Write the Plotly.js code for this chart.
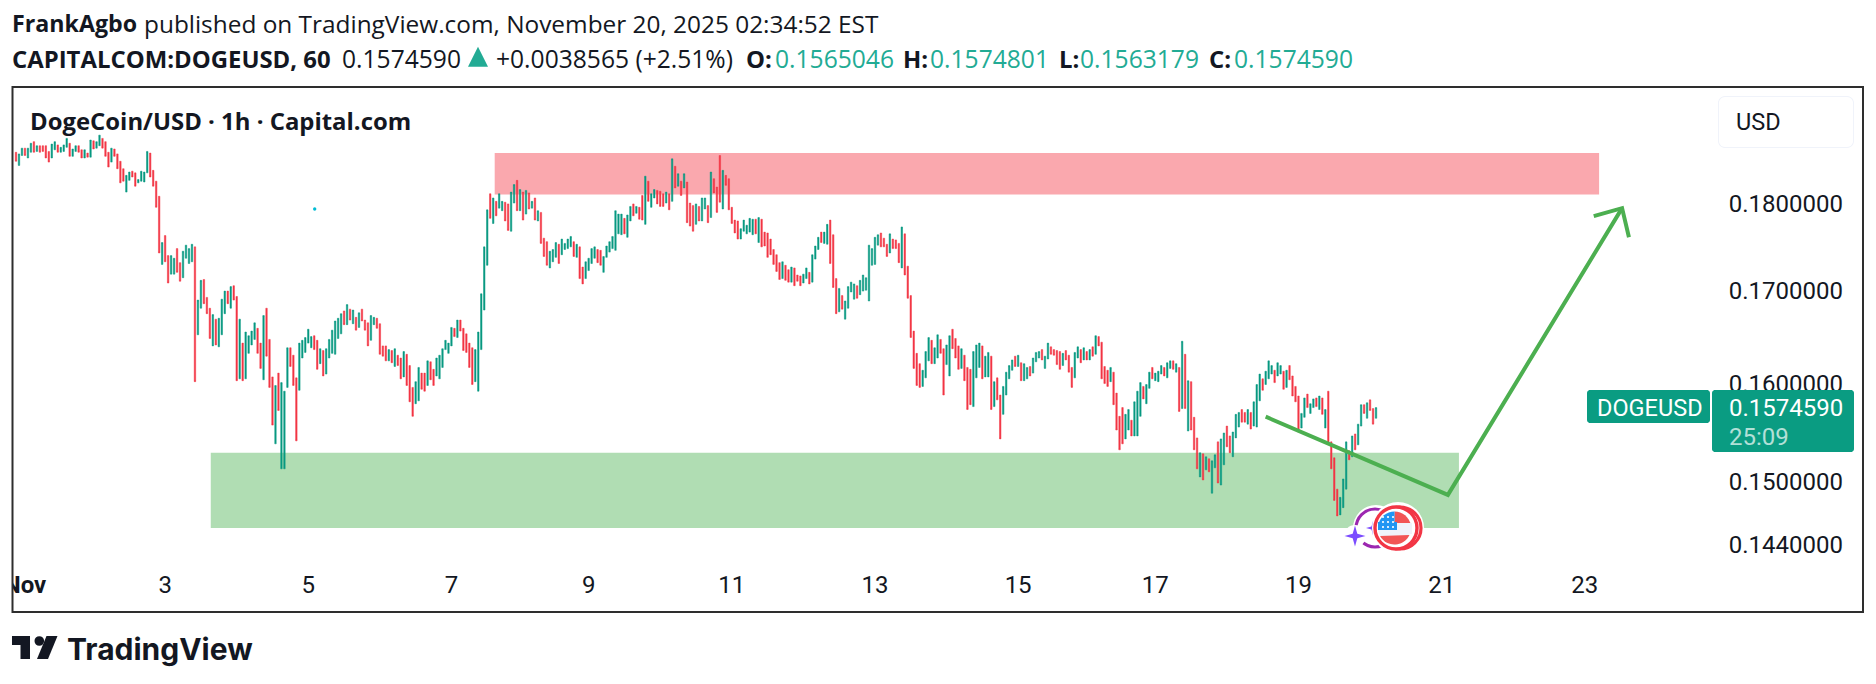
<!DOCTYPE html>
<html><head><meta charset="utf-8">
<script src="https://cdn.plot.ly/plotly-3.0.1.min.js"></script>
<style>html,body{margin:0;padding:0;background:#fff}#c{width:1876px;height:684px}</style>
</head><body><div id="c"></div>
<script>
const highs = [
.1862,.1860,.1867,.1867,.1867,.1873,.1875,.1870,.1870,.1870,
.1870,.1863,.1872,.1875,.1871,.1868,.1871,.1879,.1873,.1866,
.1870,.1870,.1865,.1865,.1861,.1877,.1876,.1875,.1883,.1879,
.1875,.1862,.1867,.1866,.1860,.1851,.1842,.1834,.1838,.1839,
.1837,.1829,.1839,.1838,.1863,.1861,.1840,.1827,.1809,.1755,
.1763,.1740,.1740,.1737,.1748,.1732,.1745,.1752,.1748,.1753,
.1750,.1690,.1712,.1713,.1693,.1681,.1674,.1669,.1670,.1691,
.1700,.1700,.1705,.1706,.1694,.1669,.1643,.1655,.1651,.1656,
.1665,.1659,.1643,.1673,.1681,.1647,.1607,.1598,.1611,.1601,
.1592,.1638,.1638,.1630,.1606,.1643,.1646,.1649,.1658,.1650,
.1651,.1646,.1637,.1635,.1637,.1647,.1657,.1667,.1670,.1675,
.1678,.1685,.1680,.1679,.1671,.1676,.1680,.1668,.1665,.1673,
.1671,.1670,.1664,.1640,.1640,.1636,.1635,.1637,.1630,.1627,
.1634,.1631,.1619,.1596,.1602,.1617,.1611,.1611,.1624,.1623,
.1615,.1627,.1630,.1637,.1646,.1643,.1660,.1659,.1668,.1668,
.1659,.1653,.1643,.1638,.1636,.1655,.1697,.1750,.1793,.1812,
.1807,.1803,.1812,.1803,.1802,.1800,.1814,.1823,.1828,.1817,
.1814,.1816,.1813,.1803,.1807,.1792,.1790,.1760,.1756,.1745,
.1747,.1755,.1753,.1759,.1754,.1759,.1762,.1756,.1753,.1750,
.1727,.1733,.1737,.1748,.1750,.1747,.1746,.1739,.1751,.1756,
.1762,.1792,.1788,.1788,.1783,.1787,.1797,.1800,.1797,.1796,
.1810,.1833,.1827,.1812,.1817,.1816,.1815,.1812,.1814,.1812,
.1854,.1845,.1836,.1827,.1836,.1826,.1801,.1798,.1800,.1797,
.1807,.1807,.1798,.1838,.1830,.1820,.1858,.1840,.1834,.1830,
.1796,.1781,.1780,.1771,.1781,.1775,.1783,.1782,.1782,.1784,
.1782,.1767,.1766,.1759,.1747,.1741,.1732,.1733,.1729,.1724,
.1727,.1726,.1718,.1717,.1719,.1726,.1721,.1741,.1751,.1761,
.1767,.1767,.1776,.1781,.1764,.1714,.1703,.1695,.1689,.1705,
.1710,.1708,.1706,.1712,.1718,.1715,.1752,.1748,.1761,.1764,
.1766,.1760,.1753,.1765,.1759,.1758,.1754,.1773,.1765,.1728,
.1695,.1656,.1632,.1621,.1614,.1634,.1649,.1646,.1638,.1652,
.1647,.1637,.1641,.1651,.1658,.1648,.1640,.1637,.1630,.1617,
.1615,.1634,.1641,.1643,.1640,.1629,.1633,.1629,.1602,.1606,
.1588,.1597,.1612,.1619,.1625,.1629,.1630,.1622,.1621,.1617,
.1618,.1627,.1633,.1634,.1636,.1629,.1643,.1639,.1636,.1635,
.1634,.1632,.1635,.1630,.1617,.1633,.1639,.1636,.1638,.1634,
.1636,.1639,.1651,.1650,.1644,.1618,.1614,.1617,.1612,.1590,
.1566,.1575,.1568,.1573,.1562,.1581,.1592,.1601,.1597,.1599,
.1612,.1617,.1611,.1613,.1619,.1617,.1622,.1624,.1624,.1621,
.1617,.1645,.1631,.1603,.1602,.1565,.1544,.1529,.1528,.1525,
.1523,.1521,.1527,.1540,.1543,.1549,.1556,.1546,.1550,.1568,
.1570,.1573,.1570,.1573,.1570,.1581,.1599,.1610,.1605,.1613,
.1624,.1619,.1614,.1622,.1619,.1613,.1614,.1619,.1608,.1597,
.1587,.1569,.1585,.1589,.1579,.1584,.1585,.1587,.1585,.1573,
.1592,.1540,.1524,.1493,.1485,.1503,.1540,.1531,.1546,.1548,
.1558,.1578,.1578,.1580,.1583,.1574,.1575];
const lows = [
.1851,.1846,.1858,.1858,.1855,.1862,.1862,.1863,.1862,.1863,
.1855,.1850,.1855,.1865,.1862,.1862,.1863,.1868,.1857,.1857,
.1863,.1862,.1855,.1855,.1856,.1856,.1866,.1867,.1870,.1867,
.1857,.1844,.1850,.1857,.1842,.1825,.1827,.1814,.1828,.1832,
.1821,.1825,.1827,.1826,.1837,.1832,.1821,.1796,.1743,.1730,
.1733,.1709,.1719,.1719,.1721,.1711,.1715,.1737,.1731,.1733,
.1602,.1652,.1681,.1686,.1675,.1648,.1640,.1641,.1639,.1652,
.1675,.1686,.1681,.1690,.1603,.1605,.1603,.1605,.1632,.1641,
.1647,.1632,.1616,.1604,.1629,.1596,.1557,.1538,.1572,.1513,
.1513,.1596,.1618,.1598,.1541,.1593,.1627,.1633,.1643,.1638,
.1636,.1615,.1621,.1608,.1610,.1627,.1632,.1631,.1648,.1653,
.1663,.1663,.1668,.1664,.1657,.1660,.1667,.1657,.1640,.1646,
.1663,.1659,.1631,.1629,.1624,.1624,.1622,.1618,.1619,.1605,
.1607,.1598,.1581,.1566,.1579,.1582,.1594,.1592,.1598,.1604,
.1598,.1608,.1605,.1617,.1636,.1632,.1640,.1650,.1649,.1656,
.1635,.1633,.1617,.1599,.1602,.1592,.1636,.1679,.1729,.1783,
.1777,.1786,.1795,.1792,.1780,.1769,.1768,.1801,.1792,.1792,
.1781,.1788,.1794,.1795,.1781,.1780,.1754,.1739,.1729,.1726,
.1733,.1738,.1731,.1741,.1747,.1748,.1750,.1739,.1738,.1714,
.1708,.1714,.1723,.1731,.1737,.1732,.1729,.1721,.1738,.1744,
.1748,.1746,.1765,.1764,.1765,.1761,.1780,.1786,.1789,.1782,
.1781,.1776,.1803,.1796,.1807,.1800,.1797,.1797,.1801,.1793,
.1803,.1819,.1821,.1810,.1819,.1778,.1774,.1768,.1776,.1780,
.1780,.1794,.1778,.1784,.1813,.1790,.1802,.1794,.1822,.1793,
.1777,.1766,.1759,.1759,.1768,.1765,.1767,.1764,.1765,.1755,
.1750,.1751,.1738,.1741,.1730,.1722,.1713,.1714,.1712,.1710,
.1710,.1706,.1711,.1706,.1709,.1714,.1708,.1710,.1736,.1747,
.1755,.1754,.1753,.1731,.1704,.1675,.1677,.1680,.1669,.1681,
.1699,.1691,.1692,.1696,.1700,.1701,.1689,.1729,.1730,.1752,
.1750,.1750,.1739,.1743,.1748,.1748,.1732,.1726,.1718,.1692,
.1649,.1616,.1598,.1596,.1597,.1606,.1624,.1621,.1621,.1627,
.1632,.1588,.1620,.1608,.1637,.1627,.1615,.1616,.1603,.1573,
.1578,.1576,.1606,.1617,.1605,.1607,.1607,.1573,.1576,.1583,
.1543,.1568,.1588,.1605,.1614,.1618,.1618,.1603,.1603,.1605,
.1608,.1611,.1623,.1627,.1625,.1616,.1626,.1631,.1630,.1620,
.1615,.1619,.1625,.1612,.1596,.1606,.1627,.1622,.1625,.1625,
.1625,.1629,.1631,.1640,.1605,.1600,.1597,.1602,.1578,.1552,
.1532,.1538,.1543,.1552,.1546,.1546,.1546,.1566,.1584,.1579,
.1595,.1605,.1603,.1602,.1610,.1608,.1606,.1616,.1615,.1612,
.1571,.1574,.1574,.1551,.1552,.1532,.1513,.1505,.1502,.1512,
.1510,.1489,.1514,.1499,.1497,.1517,.1535,.1529,.1525,.1544,
.1555,.1560,.1560,.1558,.1553,.1556,.1555,.1582,.1593,.1599,
.1605,.1610,.1601,.1608,.1610,.1594,.1596,.1604,.1587,.1581,
.1550,.1554,.1565,.1575,.1569,.1575,.1576,.1573,.1568,.1554,
.1538,.1513,.1482,.1467,.1468,.1475,.1493,.1522,.1525,.1532,
.1537,.1556,.1569,.1564,.1572,.1558,.1564];
const moves = ("DUUDUUDUDD"+"DDUUDUUUDU"+"UDDUDUDUUD"+"DDUDDDDUUD"+"DUUUUDDDDU"+"DDUUDDUUUU"+"DUUDDDUDUU"+"UDUDDUDUUU"+
"UDDUDDDUDU"+"UUDDDUUUUU"+"DDUDUUUUUU"+"DUDUDUDDDU"+"UDDDDUDUDD"+"UDDDUUDDUD"+"DUUUUUUDUD"+"DDDDUUUUUD"+
"UDUUDDUUDU"+"DUDUDUDDDU"+"UUDUUUUDUD"+"DUUUUDDUUU"+"UUUUDUUDUD"+"DUDUUDDDUD"+"UDUDUDDDUD"+"UUDUDDDUDD"+
"DDDUUUUUDU"+"DDDDDDDUDD"+"UDDDUUDUUU"+"DUUDDDUDUU"+"UUDUUUUUUU"+"DDDUDDDUDD"+"DDDDUUUDUU"+"DDUUDDDUDD"+
"DUUUDUUDUD"+"DUUUUDUDUU"+"DUUUDUUDDD"+"DUDDDUUDUD"+"UDUDDDDUDD"+"DDUUDUUUDU"+"UDUUUDUUDU"+"DUDUDDDUDU"+
"DUUDUUDDUU"+"UDDUDUUUDU"+"UUDUUDUDDD"+"DUUDUUDUDU"+"DDDDUUUDUD"+"UUDUDDU").split("");

const dayTickBars = [3,50,98,146,192,240,288,336,382,430,478,526];
const dayTickLabels = ["<b>Nov</b>","3","5","7","9","11","13","15","17","19","21","23"];
const priceTicks = [0.18,0.17,0.16,0.15,0.144];
const priceTickLabels = ["0.1800000","0.1700000","0.1600000","0.1500000","0.1440000"];

const supplyZone = {bars:[160.5,530.8], prices:[0.1811,0.1861]};
const demandZone = {bars:[65.3,483.8], prices:[0.14555,0.1529]};
const pathBars = [419,480.1,538.5];
const pathPrices = [0.15656,0.14874,0.1795];
const headBars = [529,538.5,540.8];
const headPrices = [0.17857,0.1795,0.17611];

const UP="#089981", DOWN="#F23645", INK="#131722", TEAL="#22AB94", ARROW="#4CAF50";
const W=1876,H=684, L=13,R=1722,T=88,B=567;
const fx=p=>(p-L)/(R-L), fy=p=>(B-p)/(B-T);
const P=(x,y)=>fx(x).toFixed(5)+","+fy(y).toFixed(5);
const poly=pts=>"M"+pts.map(p=>P(p[0],p[1])).join("L")+"Z";
const paper={xref:"paper",yref:"paper"};
const rect=(x0,y0,x1,y1,fill,extra)=>Object.assign({type:"rect",x0:fx(x0),x1:fx(x1),y0:fy(y0),y1:fy(y1),fillcolor:fill,line:{width:0},layer:"above"},paper,extra||{});
const circ=(cx,cy,r,fill,stroke,w)=>Object.assign({type:"circle",x0:fx(cx-r),x1:fx(cx+r),y0:fy(cy+r),y1:fy(cy-r),fillcolor:fill,line:{color:stroke||"rgba(0,0,0,0)",width:w||0},layer:"above"},paper);
const path=(d,fill)=>Object.assign({type:"path",path:d,fillcolor:fill,line:{width:0},layer:"above"},paper);
const rrect=(x0,y0,x1,y1,r)=>{
  const s=[];const c=[[x1-r,y0+r,-90],[x1-r,y1-r,0],[x0+r,y1-r,90],[x0+r,y0+r,180]];
  c.forEach(q=>{for(let a=0;a<=90;a+=15){const t=(q[2]+a)*Math.PI/180;s.push([q[0]+r*Math.cos(t),q[1]+r*Math.sin(t)]);}});
  return poly(s);};
const sector=(cx,cy,r,a0,a1)=>{const s=[[cx,cy]];for(let a=a0;a<=a1;a+=10){const t=a*Math.PI/180;s.push([cx+r*Math.cos(t),cy+r*Math.sin(t)]);}return poly(s);};
const segment=(cx,cy,r,yTop)=>{
  const a0=Math.asin((yTop-cy)/r)*180/Math.PI;const s=[];for(let a=a0;a<=180-a0;a+=6){const t=a*Math.PI/180;s.push([cx+r*Math.cos(t),cy+r*Math.sin(t)]);}return poly(s);};
const spark=(cx,cy,r)=>{const k=r*0.22;return poly([[cx,cy-r],[cx+k,cy-k],[cx+r,cy],[cx+k,cy+k],[cx,cy+r],[cx-k,cy+k],[cx-r,cy],[cx-k,cy-k]]);};

const note=(px,py,text,size,color,family,anchor)=>({xref:"paper",yref:"paper",x:fx(px),y:fy(py),text:text,showarrow:false,
  xanchor:anchor||"left",yanchor:"middle",borderpad:0,borderwidth:0,font:{size:size,color:color||INK,family:family||"'Open Sans',sans-serif"}});

const barIndex=highs.map((_,i)=>i);
const candle={type:"candlestick",x:barIndex,
  open:moves.map((m,i)=>m==="U"?lows[i]:highs[i]),
  close:moves.map((m,i)=>m==="U"?highs[i]:lows[i]),
  high:highs,low:lows,whiskerwidth:0,hoverinfo:"skip",showlegend:false,
  increasing:{line:{color:UP,width:0.5},fillcolor:UP},
  decreasing:{line:{color:DOWN,width:0.5},fillcolor:DOWN}};
const lineA={type:"scatter",mode:"lines",x:pathBars,y:pathPrices,line:{color:ARROW,width:4},hoverinfo:"skip",showlegend:false};
const lineB={type:"scatter",mode:"lines",x:headBars,y:headPrices,line:{color:ARROW,width:4},hoverinfo:"skip",showlegend:false};

const shapes=[
 {type:"rect",xref:"x",yref:"y",x0:supplyZone.bars[0],x1:supplyZone.bars[1],y0:supplyZone.prices[0],y1:supplyZone.prices[1],fillcolor:"#FAA8AE",line:{width:0},layer:"below"},
 {type:"rect",xref:"x",yref:"y",x0:demandZone.bars[0],x1:demandZone.bars[1],y0:demandZone.prices[0],y1:demandZone.prices[1],fillcolor:"#B0DDB3",line:{width:0},layer:"below"},
 circ(314.7,209,1.7,"#00BCD4"),
 rect(0,560,12,612,"#FFFFFF"),
 {type:"rect",x0:fx(12.5),x1:fx(1863),y0:fy(87),y1:fy(612),xref:"paper",yref:"paper",fillcolor:"rgba(0,0,0,0)",line:{color:"#2E2E2E",width:2},layer:"above"},
 path(rrect(1718,96,1854,148,7),"#F0F3FA"),
 path(rrect(1719,97,1853,147,6),"#FFFFFF"),
 path(rrect(1587,390,1710,423,3),"#0A9C82"),
 path(rrect(1712,390,1854,452,3),"#0A9C82"),
 path(poly([[478,46.7],[488,66.7],[468,66.7]]),TEAL),
 circ(1376,528,23,"#FFFFFF"),
 circ(1375,528,19,"#FFFFFF","#9C27B0",3),
 path(spark(1373,528,7),"#7C4DFF"),
 circ(1355,536,11,"#FFFFFF"),
 path(spark(1355,536,10.5),"#7C4DFF"),
 circ(1398,528,26,"#FFFFFF"),
 circ(1400,528,21,"#FFFFFF","#F23645",3.2),
 circ(1396,528,21,"#FFFFFF","#F23645",3.4),
 circ(1394.5,528,16.5,"#F0F3FA"),
 path(sector(1394.5,528,16.5,-90,0),"#F25555"),
 rect(1396,523,1412,534,"#F0F3FA"),
 path(sector(1394.5,528,16.5,180,270),"#2196F3"),
 rect(1378,522,1397,530,"#2196F3"),
 path(segment(1394.5,528,16.5,535),"#F25555"),
 path(poly([[12,636],[30,636],[30,659],[20.5,659],[20.5,645],[12,645]]),INK),
 circ(39.3,641,4.8,INK),
 path(poly([[46.5,636],[57.5,636],[48,659],[37,659]]),INK)
];
[1383,1388,1393].forEach(x=>[517,522,527].forEach(y=>shapes.push(circ(x,y,1.1,"#FFFFFF"))));

const annotations=[
 note(12,23.5,'<b>FrankAgbo</b>',23.2),
 note(144,23.5,'published on TradingView.com, November 20, 2025 02:34:52 EST',24.4),
 note(12,58.5,'<b>CAPITALCOM:DOGEUSD, 60</b>',23.9),
 note(341.5,58.5,'0.1574590',24.6),
 note(496,58.5,'+0.0038565 (+2.51%)',24.6),
 note(746,58.5,'<b>O:</b>',23.9),
 note(774.6,58.5,'0.1565046',24.6,TEAL),
 note(903,58.5,'<b>H:</b>',23.9),
 note(930,58.5,'0.1574801',24.6,TEAL),
 note(1059,58.5,'<b>L:</b>',23.9),
 note(1080,58.5,'0.1563179',24.6,TEAL),
 note(1209,58.5,'<b>C:</b>',23.9),
 note(1234,58.5,'0.1574590',24.6,TEAL),
 note(30,120,'<b>DogeCoin/USD · 1h · Capital.com</b>',23.9),
 note(1736,121.5,'USD',23.5,INK,'Roboto'),
 note(1597,408,'DOGEUSD',23.5,"#FFFFFF",'Roboto'),
 note(1729,408,'0.1574590',24,"#FFFFFF",'Roboto'),
 note(1729,436.5,'25:09',24,"rgba(255,255,255,0.7)",'Roboto'),
 note(67,649,'<b>TradingView</b>',30,INK,"Inter")
];

const layout={width:W,height:H,margin:{l:L,r:W-R,t:T,b:H-B,pad:0},paper_bgcolor:"#FFFFFF",plot_bgcolor:"#FFFFFF",
 showlegend:false,dragmode:false,
 xaxis:{type:"linear",range:[(L-16)/2.9825,(R-16)/2.9825],rangeslider:{visible:false},showgrid:false,zeroline:false,showline:false,
   tickmode:"array",tickvals:dayTickBars,ticktext:dayTickLabels,ticks:"",ticklabelstandoff:1,
   tickangle:0,tickfont:{family:"Roboto",size:24,color:INK},fixedrange:true},
 yaxis:{type:"log",range:[Math.log10(0.14187),Math.log10(0.19421)],side:"right",showgrid:false,zeroline:false,showline:false,
   tickmode:"array",tickvals:priceTicks,ticktext:priceTickLabels,ticks:"outside",ticklen:1,tickcolor:"rgba(0,0,0,0)",
   tickfont:{family:"Roboto",size:24,color:INK},fixedrange:true},
 shapes:shapes,annotations:annotations};
Plotly.newPlot("c",[candle,lineA,lineB],layout,{displayModeBar:false,staticPlot:true});
</script></body></html>
